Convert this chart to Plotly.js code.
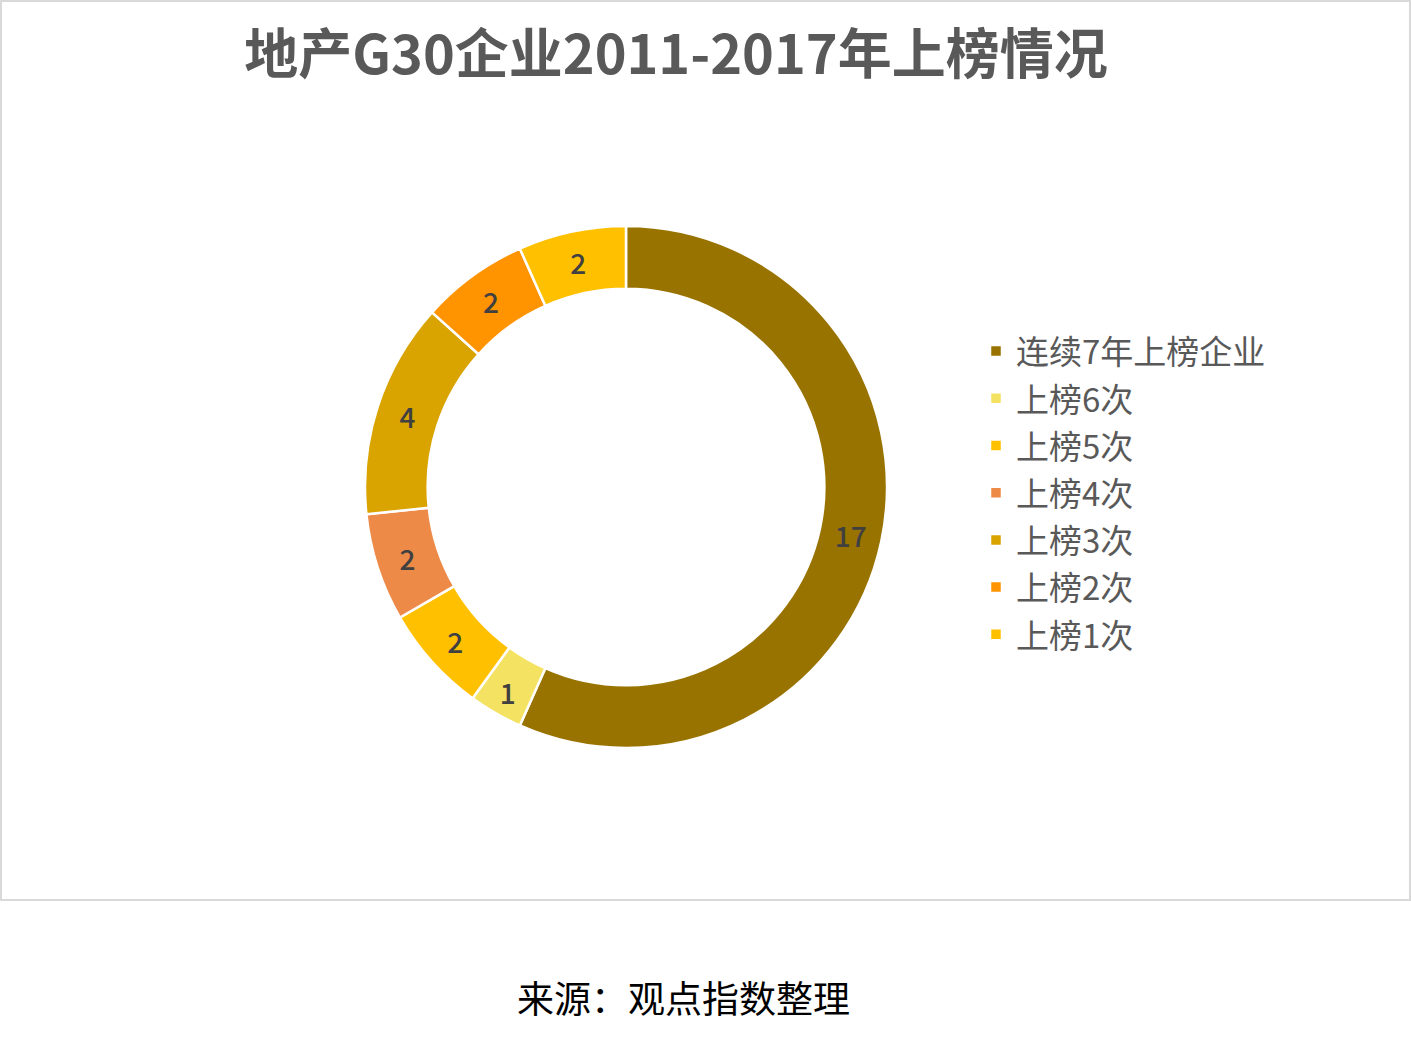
<!DOCTYPE html>
<html>
<head>
<meta charset="utf-8">
<script src="https://cdn.plot.ly/plotly-3.0.1.min.js"></script>
<style>html,body{margin:0;padding:0;background:#fff;}#chart{width:1411px;height:1039px;}</style>
</head>
<body>
<div id="chart"></div>
<script>
const categories = ["连续7年上榜企业", "上榜6次", "上榜5次", "上榜4次", "上榜3次", "上榜2次", "上榜1次"];
const counts = [17, 1, 2, 2, 4, 2, 2];
const sliceColors = ["#997300", "#F4E263", "#FFC000", "#EE8A48", "#D9A300", "#FF9300", "#FFC000"];
const titleText = "地产G30企业2011-2017年上榜情况";
const sourceText = "来源：观点指数整理";

const W = 1411, H = 1039;
const cx = 626, cy = 487, R = 261;
const font = "Noto Sans CJK SC, Noto Sans, sans-serif";

const legendLabels = categories.map(c => '<span style="font-size:33px">' + c + '</span>');

const trace = {
  type: "pie",
  labels: legendLabels,
  values: counts,
  sort: false,
  direction: "clockwise",
  rotation: 0,
  hole: 0.76,
  marker: {colors: sliceColors, line: {color: "#ffffff", width: 2.5}},
  textinfo: "value",
  textposition: "inside",
  insidetextorientation: "horizontal",
  textfont: {family: font, size: 28, color: "#404040", weight: 500},
  domain: {x: [(cx - R) / W, (cx + R) / W], y: [(H - cy - R) / H, (H - cy + R) / H]},
  hoverinfo: "label+value"
};

const layout = {
  width: W, height: H,
  margin: {l: 0, r: 0, t: 0, b: 0},
  paper_bgcolor: "#ffffff",
  showlegend: true,
  title: {
    text: titleText,
    font: {family: font, size: 54, color: "#595959", weight: "bold"},
    x: 676 / W, xanchor: "center",
    y: 1 - 55 / H, yanchor: "middle"
  },
  legend: {
    x: 976 / W, xanchor: "left",
    y: 1 - 493 / H, yanchor: "middle",
    font: {family: font, size: 34, color: "#595959"},
    bgcolor: "rgba(0,0,0,0)",
    traceorder: "normal"
  },
  shapes: [{
    type: "rect", xref: "paper", yref: "paper",
    x0: 1 / W, x1: 1 - 1 / W, y0: 1 - 900 / H, y1: 1 - 1 / H,
    line: {color: "#D9D9D9", width: 2}, fillcolor: "rgba(0,0,0,0)", layer: "below"
  }],
  annotations: [{
    text: sourceText, xref: "paper", yref: "paper",
    x: 683 / W, y: 1 - 997 / H, xanchor: "center", yanchor: "middle",
    showarrow: false,
    font: {family: font, size: 37, color: "#000000"}
  }]
};

Plotly.newPlot("chart", [trace], layout, {displayModeBar: false, staticPlot: true});
</script>
</body>
</html>
